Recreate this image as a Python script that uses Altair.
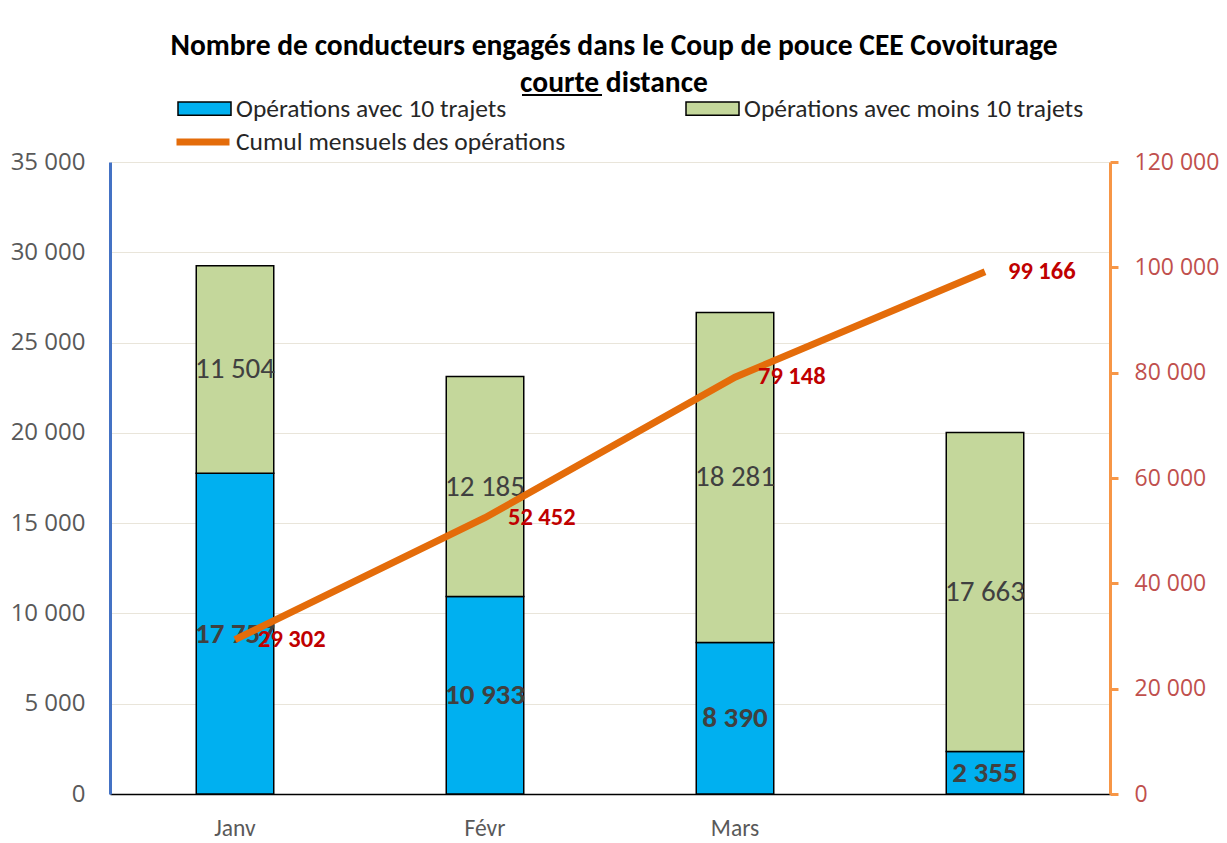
import altair as alt
import pandas as pd

months = ["Janv", "Févr", "Mars", " "]
with_10 = [17757, 10933, 8390, 2355]
less_10 = [11504, 12185, 18281, 17663]
cumul = [29302, 52452, 79148, 99166]
left_ticks = [0, 5000, 10000, 15000, 20000, 25000, 30000, 35000]
right_ticks = [0, 20000, 40000, 60000, 80000, 100000, 120000]

S1 = "Opérations avec 10 trajets"
S2 = "Opérations avec moins 10 trajets"
S3 = "Cumul mensuels des opérations"

FONT = "Carlito, 'Liberation Sans Narrow', 'Open Sans', sans-serif"
AXFONT = "'Open Sans', sans-serif"
FMT = "replace(format(datum.value, ','), regexp(',', 'g'), ' ')"

rows = []
for m, a, b in zip(months, with_10, less_10):
    rows.append({"month": m, "series": S1, "value": a, "ord": 0})
    rows.append({"month": m, "series": S2, "value": b, "ord": 1})
bars_df = pd.DataFrame(rows)
line_df = pd.DataFrame({"month": months, "cumul": cumul})

xenc = alt.X("month:N", sort=months,
             scale=alt.Scale(paddingInner=0.69, paddingOuter=0.345),
             axis=alt.Axis(title=None, labelFont=FONT, labelFontSize=23.5, labelColor="#595959",
                           labelPadding=22, ticks=False, domainColor="#000000",
                           domainWidth=1.5, labelAngle=0))

yleft = alt.Scale(domain=[0, 35000])
yright = alt.Scale(domain=[0, 120000])

left_axis = alt.Axis(title=None, values=left_ticks, labelExpr=FMT,
                     labelFont=AXFONT, labelFontSize=24, labelColor="#595959",
                     labelPadding=25, ticks=False, domainColor="#4472C4", domainWidth=3,
                     grid=True, gridColor="#E9E5DA", gridWidth=1.2, orient="left")
right_axis = alt.Axis(title=None, values=right_ticks, labelExpr=FMT,
                      orient="right", labelFont=AXFONT, labelFontSize=23,
                      labelColor="#C0504D", labelPadding=16, tickSize=8, tickWidth=3,
                      tickColor="#F79646", domainColor="#F79646", domainWidth=3, grid=False)

base = alt.Chart(bars_df).transform_stack(
    stack="value", groupby=["month"], as_=["v0", "v1"], sort=[alt.SortField("ord")]
).transform_calculate(
    mid="(datum.v0 + datum.v1) / 2",
    lab="replace(format(datum.value, ','), regexp(',', 'g'), ' ')",
)

bars = base.mark_bar(stroke="#000000", strokeWidth=1.5).encode(
    x=xenc,
    y=alt.Y("v0:Q", scale=yleft, axis=left_axis),
    y2="v1:Q",
    color=alt.Color("series:N", sort=[S1, S2],
                    scale=alt.Scale(domain=[S1, S2], range=["#00B0F0", "#C4D79B"]),
                    legend=alt.Legend(title=None, orient="none", legendX=67, legendY=-81,
                                      columns=2, columnPadding=176, padding=0,
                                      symbolType="M-1,-0.25H1V0.25H-1Z", symbolSize=2809,
                                      symbolStrokeColor="#000000", symbolStrokeWidth=1.5,
                                      symbolOpacity=1,
                                      labelFont=FONT, labelFontSize=25.5, labelColor="#262626",
                                      labelOffset=4, labelLimit=500)),
)

txt_blue = base.transform_filter(alt.datum.ord == 0).mark_text(
    font=FONT, fontSize=29, fontWeight="bold", color="#404040", baseline="middle"
).encode(x=xenc, y=alt.Y("mid:Q", scale=yleft, axis=left_axis), text="lab:N")

txt_green = base.transform_filter(alt.datum.ord == 1).mark_text(
    font=FONT, fontSize=29, color="#404040", baseline="middle"
).encode(x=xenc, y=alt.Y("mid:Q", scale=yleft, axis=left_axis), text="lab:N")

# underline of "courte" in the title (decoration)
underline = alt.Chart(alt.Data(values=[{"u": 1}])).mark_rule(
    color="#000000", strokeWidth=2
).encode(x=alt.value(412), x2=alt.value(492), y=alt.value(-67))

left = alt.layer(bars, txt_blue, txt_green, underline)

line_base = alt.Chart(line_df).transform_calculate(
    lbl="'" + S3 + "'",
    lab="replace(format(datum.cumul, ','), regexp(',', 'g'), ' ')",
)

line = line_base.mark_line(strokeWidth=7).encode(
    x=xenc,
    y=alt.Y("cumul:Q", scale=yright, axis=right_axis),
    stroke=alt.Stroke("lbl:N", scale=alt.Scale(domain=[S3], range=["#E46C0A"]),
                      legend=alt.Legend(title=None, orient="none", legendX=63, legendY=-50,
                                        padding=0, symbolType="stroke", symbolSize=2809,
                                        symbolStrokeWidth=7,
                                        labelFont=FONT, labelFontSize=25.5, labelColor="#262626",
                                        labelOffset=3, labelLimit=500)),
)

line_txt = line_base.mark_text(
    font=FONT, fontSize=24.5, fontWeight="bold", color="#C00000", align="left",
    baseline="middle", dx=23
).encode(x=xenc, y=alt.Y("cumul:Q", scale=yright, axis=right_axis), text="lab:N")

right = alt.layer(line, line_txt)

chart = alt.layer(left, right).resolve_scale(y="independent", color="independent").properties(
    width=1000, height=632,
    padding={"left": 2, "top": 22, "right": 0, "bottom": 0},
    title=alt.TitleParams(
        text=["Nombre de conducteurs engagés dans le Coup de pouce CEE Covoiturage",
              "courte distance"],
        font=FONT, fontSize=29.5, fontWeight="bold", color="#000000",
        anchor="middle", frame="group", offset=-17, lineHeight=37, dx=4),
).configure(background="#FFFFFF").configure_view(stroke=None)

chart.save("out.html", embed_options={"renderer": "svg", "actions": False})
